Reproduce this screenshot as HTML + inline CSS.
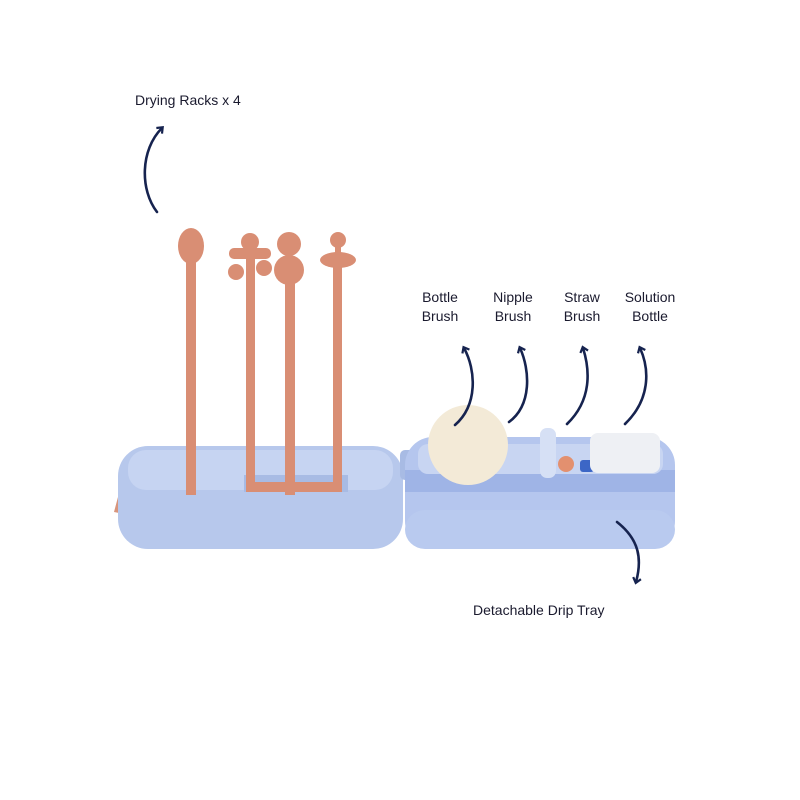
<!DOCTYPE html>
<html><head><style>
body{margin:0;background:#fff;}
svg{display:block}
text{font-family:"Liberation Sans",sans-serif;fill:#1a1a2e;font-size:14px}
</style></head><body>
<svg width="800" height="800" viewBox="0 0 800 800">
<defs>
<marker id="a" markerWidth="10" markerHeight="10" refX="5" refY="5" orient="auto" markerUnits="userSpaceOnUse">
<path d="M1,1 L6,5 L1,9" fill="none" stroke="#16234f" stroke-width="2.2"/>
</marker>
</defs>
<text x="135" y="105">Drying Racks x 4</text>
<g text-anchor="middle">
<text x="440" y="302">Bottle</text><text x="440" y="321">Brush</text>
<text x="513" y="302">Nipple</text><text x="513" y="321">Brush</text>
<text x="582" y="302">Straw</text><text x="582" y="321">Brush</text>
<text x="650" y="302">Solution</text><text x="650" y="321">Bottle</text>
</g>
<text x="473" y="615">Detachable Drip Tray</text>
<!-- left tray -->
<path d="M122,482 L114,512 L124,514 L132,488Z" fill="#d8957c"/>
<rect x="118" y="446" width="285" height="103" rx="30" fill="#b7c8ec"/>
<rect x="128" y="450" width="265" height="40" rx="18" fill="#c6d4f2"/>
<rect x="244" y="475" width="104" height="17" fill="#a8bbe4"/>
<!-- sticks -->
<g fill="#d98e74">
<ellipse cx="191" cy="246" rx="13" ry="18"/>
<rect x="186" y="255" width="10" height="240"/>
<circle cx="250" cy="242" r="9"/><rect x="229" y="248" width="42" height="11" rx="5"/><circle cx="236" cy="272" r="8"/><circle cx="264" cy="268" r="8"/>
<rect x="246" y="245" width="9" height="245"/>
<circle cx="289" cy="244" r="12"/><circle cx="289" cy="270" r="15"/>
<rect x="285" y="270" width="10" height="225"/>
<circle cx="338" cy="240" r="8"/><rect x="335" y="245" width="6" height="10"/><ellipse cx="338" cy="260" rx="18" ry="8"/>
<rect x="333" y="260" width="9" height="230"/>
<rect x="246" y="482" width="96" height="10"/>
</g>
<!-- right box -->
<rect x="400" y="450" width="14" height="30" rx="5" fill="#a8bbe4"/>
<rect x="405" y="437" width="270" height="112" rx="28" fill="#b5c6ee"/>
<rect x="405" y="470" width="270" height="22" fill="#9fb4e6"/>
<rect x="418" y="444" width="245" height="30" rx="10" fill="#c8d5f2"/>
<circle cx="468" cy="445" r="40" fill="#f3ead7"/>
<rect x="540" y="428" width="16" height="50" rx="7" fill="#d6e0f5"/>
<circle cx="566" cy="464" r="8" fill="#e3906f"/>
<rect x="580" y="460" width="14" height="12" rx="3" fill="#3c66c6"/>
<rect x="590" y="433" width="70" height="40" rx="8" fill="#eef0f4"/>
<rect x="405" y="510" width="270" height="39" rx="20" fill="#b9caef"/>
<g fill="none" stroke="#16234f" stroke-width="2.6" stroke-linecap="round">
<path d="M157,212 C140,190 140,150 162,128" marker-end="url(#a)"/>
<path d="M455,425 C478,405 476,370 464,348" marker-end="url(#a)"/>
<path d="M509,422 C532,405 530,370 520,348" marker-end="url(#a)"/>
<path d="M567,424 C592,400 590,370 583,348" marker-end="url(#a)"/>
<path d="M625,424 C650,400 650,370 640,348" marker-end="url(#a)"/>
<path d="M617,522 C640,540 642,560 636,582" marker-end="url(#a)"/>
</g>
</svg>
</body></html>
